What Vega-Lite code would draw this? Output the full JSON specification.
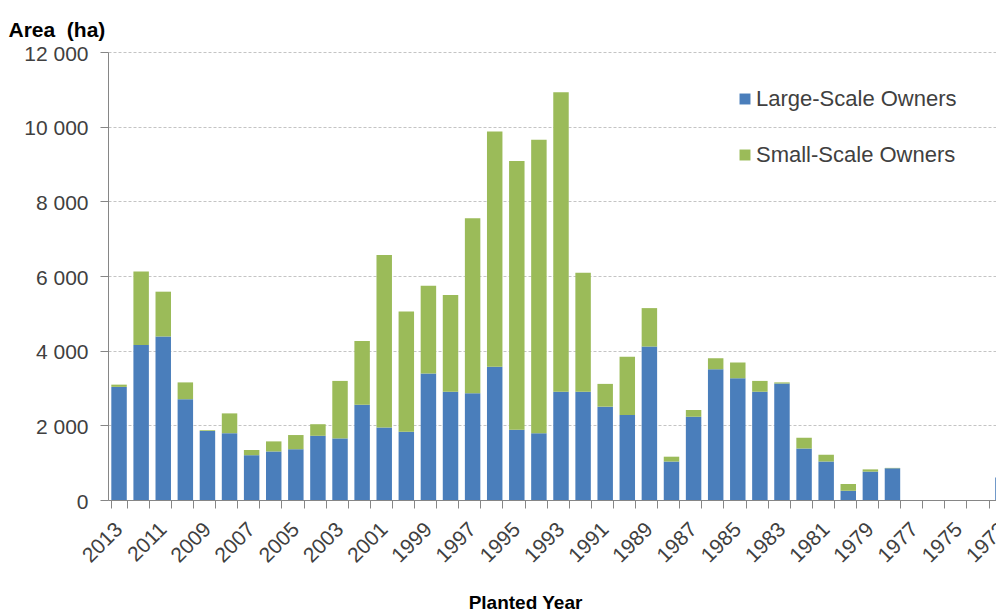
{
  "$schema": "https://vega.github.io/schema/vega-lite/v6.json",
  "width": 906,
  "height": 448,
  "autosize": "none",
  "padding": {"left": 108, "top": 52, "right": 0, "bottom": 115},
  "background": "white",
  "config": {"font": "Liberation Sans", "view": {"stroke": null}},
  "data": {
    "values": [
      {"year": 2013, "owner": "Large-Scale Owners", "area": 3030}, {"year": 2013, "owner": "Small-Scale Owners", "area": 60},
      {"year": 2012, "owner": "Large-Scale Owners", "area": 4150}, {"year": 2012, "owner": "Small-Scale Owners", "area": 1970},
      {"year": 2011, "owner": "Large-Scale Owners", "area": 4380}, {"year": 2011, "owner": "Small-Scale Owners", "area": 1200},
      {"year": 2010, "owner": "Large-Scale Owners", "area": 2700}, {"year": 2010, "owner": "Small-Scale Owners", "area": 450},
      {"year": 2009, "owner": "Large-Scale Owners", "area": 1850}, {"year": 2009, "owner": "Small-Scale Owners", "area": 20},
      {"year": 2008, "owner": "Large-Scale Owners", "area": 1790}, {"year": 2008, "owner": "Small-Scale Owners", "area": 530},
      {"year": 2007, "owner": "Large-Scale Owners", "area": 1200}, {"year": 2007, "owner": "Small-Scale Owners", "area": 140},
      {"year": 2006, "owner": "Large-Scale Owners", "area": 1300}, {"year": 2006, "owner": "Small-Scale Owners", "area": 270},
      {"year": 2005, "owner": "Large-Scale Owners", "area": 1360}, {"year": 2005, "owner": "Small-Scale Owners", "area": 380},
      {"year": 2004, "owner": "Large-Scale Owners", "area": 1720}, {"year": 2004, "owner": "Small-Scale Owners", "area": 310},
      {"year": 2003, "owner": "Large-Scale Owners", "area": 1650}, {"year": 2003, "owner": "Small-Scale Owners", "area": 1540},
      {"year": 2002, "owner": "Large-Scale Owners", "area": 2550}, {"year": 2002, "owner": "Small-Scale Owners", "area": 1710},
      {"year": 2001, "owner": "Large-Scale Owners", "area": 1940}, {"year": 2001, "owner": "Small-Scale Owners", "area": 4620},
      {"year": 2000, "owner": "Large-Scale Owners", "area": 1830}, {"year": 2000, "owner": "Small-Scale Owners", "area": 3220},
      {"year": 1999, "owner": "Large-Scale Owners", "area": 3390}, {"year": 1999, "owner": "Small-Scale Owners", "area": 2350},
      {"year": 1998, "owner": "Large-Scale Owners", "area": 2900}, {"year": 1998, "owner": "Small-Scale Owners", "area": 2590},
      {"year": 1997, "owner": "Large-Scale Owners", "area": 2860}, {"year": 1997, "owner": "Small-Scale Owners", "area": 4690},
      {"year": 1996, "owner": "Large-Scale Owners", "area": 3570}, {"year": 1996, "owner": "Small-Scale Owners", "area": 6300},
      {"year": 1995, "owner": "Large-Scale Owners", "area": 1880}, {"year": 1995, "owner": "Small-Scale Owners", "area": 7200},
      {"year": 1994, "owner": "Large-Scale Owners", "area": 1790}, {"year": 1994, "owner": "Small-Scale Owners", "area": 7860},
      {"year": 1993, "owner": "Large-Scale Owners", "area": 2900}, {"year": 1993, "owner": "Small-Scale Owners", "area": 8020},
      {"year": 1992, "owner": "Large-Scale Owners", "area": 2900}, {"year": 1992, "owner": "Small-Scale Owners", "area": 3190},
      {"year": 1991, "owner": "Large-Scale Owners", "area": 2500}, {"year": 1991, "owner": "Small-Scale Owners", "area": 610},
      {"year": 1990, "owner": "Large-Scale Owners", "area": 2280}, {"year": 1990, "owner": "Small-Scale Owners", "area": 1560},
      {"year": 1989, "owner": "Large-Scale Owners", "area": 4110}, {"year": 1989, "owner": "Small-Scale Owners", "area": 1030},
      {"year": 1988, "owner": "Large-Scale Owners", "area": 1030}, {"year": 1988, "owner": "Small-Scale Owners", "area": 130},
      {"year": 1987, "owner": "Large-Scale Owners", "area": 2230}, {"year": 1987, "owner": "Small-Scale Owners", "area": 180},
      {"year": 1986, "owner": "Large-Scale Owners", "area": 3500}, {"year": 1986, "owner": "Small-Scale Owners", "area": 300},
      {"year": 1985, "owner": "Large-Scale Owners", "area": 3260}, {"year": 1985, "owner": "Small-Scale Owners", "area": 420},
      {"year": 1984, "owner": "Large-Scale Owners", "area": 2900}, {"year": 1984, "owner": "Small-Scale Owners", "area": 290},
      {"year": 1983, "owner": "Large-Scale Owners", "area": 3120}, {"year": 1983, "owner": "Small-Scale Owners", "area": 30},
      {"year": 1982, "owner": "Large-Scale Owners", "area": 1380}, {"year": 1982, "owner": "Small-Scale Owners", "area": 290},
      {"year": 1981, "owner": "Large-Scale Owners", "area": 1030}, {"year": 1981, "owner": "Small-Scale Owners", "area": 180},
      {"year": 1980, "owner": "Large-Scale Owners", "area": 250}, {"year": 1980, "owner": "Small-Scale Owners", "area": 180},
      {"year": 1979, "owner": "Large-Scale Owners", "area": 760}, {"year": 1979, "owner": "Small-Scale Owners", "area": 60},
      {"year": 1978, "owner": "Large-Scale Owners", "area": 850}, {"year": 1978, "owner": "Small-Scale Owners", "area": 10},
      {"year": 1977, "owner": "Large-Scale Owners", "area": 0}, {"year": 1977, "owner": "Small-Scale Owners", "area": 0},
      {"year": 1976, "owner": "Large-Scale Owners", "area": 0}, {"year": 1976, "owner": "Small-Scale Owners", "area": 0},
      {"year": 1975, "owner": "Large-Scale Owners", "area": 0}, {"year": 1975, "owner": "Small-Scale Owners", "area": 0},
      {"year": 1974, "owner": "Large-Scale Owners", "area": 0}, {"year": 1974, "owner": "Small-Scale Owners", "area": 0},
      {"year": 1973, "owner": "Large-Scale Owners", "area": 600}, {"year": 1973, "owner": "Small-Scale Owners", "area": 0}
    ]
  },
  "mark": {"type": "bar"},
  "encoding": {
    "x": {
      "field": "year",
      "type": "ordinal",
      "sort": "descending",
      "scale": {"paddingInner": 0.3, "paddingOuter": 0.15},
      "axis": {
        "tickBand": "extent",
        "labelExpr": "datum.value % 2 == 1 ? datum.label : ''",
        "labelAngle": -45,
        "labelAlign": "right",
        "labelBaseline": "middle",
        "labelFontSize": 21,
        "labelColor": "#404040",
        "labelPadding": 18,
        "labelOverlap": false,
        "labelBound": false,
        "labelFlush": false,
        "tickSize": 8,
        "tickColor": "#868686",
        "domainColor": "#868686",
        "grid": false,
        "title": "Planted Year",
        "titleFontSize": 19,
        "titleFontWeight": "bold",
        "titleColor": "#000000",
        "titleX": 417,
        "titleY": 108,
        "titleAlign": "center",
        "titleBaseline": "alphabetic"
      }
    },
    "y": {
      "field": "area",
      "type": "quantitative",
      "stack": "zero",
      "scale": {"domain": [0, 12000], "nice": false},
      "axis": {
        "values": [0, 2000, 4000, 6000, 8000, 10000, 12000],
        "labelExpr": "replace(format(datum.value, ','), ',', ' ')",
        "labelFontSize": 21,
        "labelColor": "#404040",
        "labelPadding": 12,
        "labelOffset": 2,
        "tickSize": 8,
        "tickColor": "#868686",
        "domainColor": "#868686",
        "grid": true,
        "gridColor": "#c4c4c4",
        "gridDash": [3, 2],
        "title": "Area\u00a0 (ha)",
        "titleAngle": 0,
        "titleX": -100,
        "titleY": -16,
        "titleAlign": "left",
        "titleBaseline": "alphabetic",
        "titleFontSize": 21,
        "titleFontWeight": "bold",
        "titleColor": "#000000"
      }
    },
    "color": {
      "field": "owner",
      "type": "nominal",
      "scale": {"domain": ["Large-Scale Owners", "Small-Scale Owners"], "range": ["#4a7ebb", "#9bbb59"]},
      "legend": {
        "orient": "none",
        "legendX": 626,
        "legendY": 36,
        "title": null,
        "symbolType": "square",
        "symbolSize": 120,
        "symbolStrokeWidth": 0,
        "labelFontSize": 22,
        "labelColor": "#404040",
        "labelOffset": 0,
        "labelLimit": 0,
        "rowPadding": 34
      }
    },
    "order": {"field": "owner", "sort": "ascending"}
  }
}
